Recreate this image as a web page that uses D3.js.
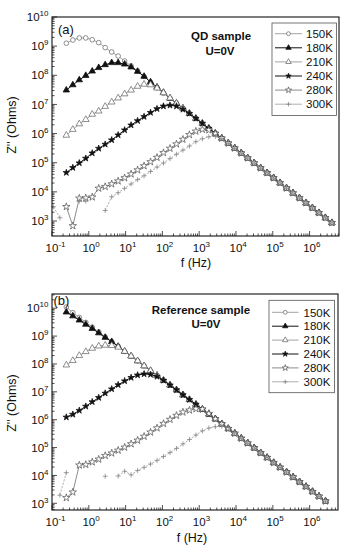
<!DOCTYPE html>
<html><head><meta charset="utf-8">
<script src="https://cdn.jsdelivr.net/npm/d3@7"></script>
<style>body{margin:0;background:#fff}svg{display:block}</style>
</head><body><svg id="c" width="349" height="550"></svg>
<script>
// ---------- data ----------
const freq = [0.109,0.164,0.245,0.368,0.552,0.828,1.24,1.86,2.79,4.19,6.28,9.42,14.1,21.2,31.8,47.6,71.4,107,161,241,361,542,813,1219,1828,2742,4111,6166,9247,13870,20800,31190,46770,70150,105200,157800,236600,354800,532100,798000,1197000,1795000,2692000,4036000];
const temps = ["150K","180K","210K","240K","280K","300K"];

// (a) QD sample
const qd150 = [null,null,1.26e9,1.62e9,1.91e9,1.91e9,1.66e9,1.32e9,8.91e8,6.31e8,4.57e8,3.09e8,2.09e8,1.41e8,9.12e7,5.75e7,3.72e7,2.40e7,1.62e7,1.10e7,7.41e6,4.90e6,3.31e6,2.24e6,1.51e6,1.02e6,6.92e5,4.68e5,3.16e5,2.14e5,1.45e5,9.77e4,6.61e4,4.47e4,3.02e4,2.04e4,1.35e4,9.12e3,6.17e3,4.17e3,2.82e3,1.91e3,1.29e3,871];
const qd180 = [null,null,3.09e7,4.68e7,6.92e7,9.77e7,1.38e8,1.82e8,2.29e8,2.69e8,2.69e8,2.40e8,1.91e8,1.35e8,9.12e7,5.89e7,3.89e7,2.57e7,1.62e7,1.10e7,7.41e6,4.90e6,3.31e6,2.24e6,1.51e6,1.02e6,6.92e5,4.68e5,3.16e5,2.14e5,1.45e5,9.77e4,6.61e4,4.47e4,3.02e4,2.04e4,1.35e4,9.12e3,6.17e3,4.17e3,2.82e3,1.91e3,1.29e3,871];
const qd210 = [null,null,8.71e5,1.38e6,2.14e6,3.02e6,4.57e6,5.89e6,8.51e6,1.20e7,1.66e7,2.29e7,3.09e7,4.17e7,4.90e7,4.68e7,3.63e7,2.51e7,1.66e7,1.10e7,7.41e6,4.90e6,3.31e6,2.24e6,1.51e6,1.02e6,6.92e5,4.68e5,3.16e5,2.14e5,1.45e5,9.77e4,6.61e4,4.47e4,3.02e4,2.04e4,1.35e4,9.12e3,6.17e3,4.17e3,2.82e3,1.91e3,1.29e3,871];
const qd240 = [null,null,4.57e4,6.76e4,9.77e4,1.41e5,2.14e5,3.09e5,4.27e5,6.03e5,8.91e5,1.32e6,1.95e6,2.75e6,3.80e6,5.25e6,7.08e6,8.71e6,9.33e6,8.71e6,6.76e6,4.90e6,3.31e6,2.24e6,1.51e6,1.02e6,6.92e5,4.68e5,3.16e5,2.14e5,1.45e5,9.77e4,6.61e4,4.47e4,3.02e4,2.04e4,1.35e4,9.12e3,6.17e3,4.17e3,2.82e3,1.91e3,1.29e3,871];
const qd280 = [null,null,3.09e3,680,6.03e3,6.17e3,6.61e3,1.32e4,1.51e4,1.86e4,2.34e4,3.02e4,4.07e4,5.62e4,7.76e4,1.07e5,1.51e5,2.19e5,3.09e5,4.37e5,6.31e5,9.12e5,1.20e6,1.38e6,1.32e6,1.00e6,6.92e5,4.68e5,3.16e5,2.14e5,1.45e5,9.77e4,6.61e4,4.47e4,3.02e4,2.04e4,1.35e4,9.12e3,6.17e3,4.17e3,2.82e3,1.91e3,1.29e3,871];
const qd300 = [3.09e3,1.29e3,null,null,4.79e3,4.79e3,null,null,2.29e3,6.76e3,9.33e3,1.32e4,1.86e4,2.63e4,3.55e4,5.01e4,7.08e4,9.77e4,1.38e5,1.95e5,2.69e5,3.72e5,5.25e5,6.61e5,7.76e5,7.94e5,6.61e5,4.68e5,3.16e5,2.14e5,1.45e5,9.77e4,6.61e4,4.47e4,3.02e4,2.04e4,1.35e4,9.12e3,6.17e3,4.17e3,2.82e3,1.91e3,1.29e3,871];

// (b) Reference sample
const ref150 = [null,null,1.10e10,6.92e9,4.68e9,3.09e9,2.09e9,1.41e9,9.33e8,6.31e8,4.27e8,2.82e8,1.91e8,1.29e8,8.51e7,5.75e7,3.89e7,2.57e7,1.74e7,1.17e7,7.76e6,5.25e6,3.55e6,2.34e6,1.58e6,1.07e6,7.08e5,4.79e5,3.24e5,2.14e5,1.45e5,9.77e4,6.46e4,4.37e4,2.88e4,1.95e4,1.32e4,8.71e3,5.89e3,3.98e3,2.63e3,1.78e3,1.20e3,null];
const ref180 = [null,null,7.24e9,5.25e9,3.72e9,2.63e9,1.86e9,1.29e9,8.91e8,6.31e8,4.27e8,2.82e8,1.91e8,1.29e8,8.51e7,5.75e7,3.89e7,2.57e7,1.74e7,1.17e7,7.76e6,5.25e6,3.55e6,2.34e6,1.58e6,1.07e6,7.08e5,4.79e5,3.24e5,2.14e5,1.45e5,9.77e4,6.46e4,4.37e4,2.88e4,1.95e4,1.32e4,8.71e3,5.89e3,3.98e3,2.63e3,1.78e3,1.20e3,null];
const ref210 = [null,null,9.12e7,1.32e8,2.00e8,2.75e8,3.63e8,4.37e8,4.68e8,4.57e8,3.98e8,2.82e8,1.91e8,1.29e8,8.51e7,5.75e7,3.89e7,2.57e7,1.74e7,1.17e7,7.76e6,5.25e6,3.55e6,2.34e6,1.58e6,1.07e6,7.08e5,4.79e5,3.24e5,2.14e5,1.45e5,9.77e4,6.46e4,4.37e4,2.88e4,1.95e4,1.32e4,8.71e3,5.89e3,3.98e3,2.63e3,1.78e3,1.20e3,null];
const ref240 = [null,null,1.23e6,1.55e6,2.14e6,3.02e6,4.37e6,6.17e6,8.91e6,1.26e7,1.78e7,2.45e7,3.24e7,3.98e7,4.37e7,4.17e7,3.55e7,2.57e7,1.74e7,1.17e7,7.76e6,5.25e6,3.55e6,2.34e6,1.58e6,1.07e6,7.08e5,4.79e5,3.24e5,2.14e5,1.45e5,9.77e4,6.46e4,4.37e4,2.88e4,1.95e4,1.32e4,8.71e3,5.89e3,3.98e3,2.63e3,1.78e3,1.20e3,null];
const ref280 = [null,null,1.58e3,2.51e3,2.34e4,2.45e4,3.02e4,3.80e4,5.13e4,6.31e4,7.94e4,1.02e5,1.35e5,1.82e5,2.51e5,3.55e5,5.01e5,7.24e5,1.02e6,1.41e6,1.86e6,2.19e6,2.45e6,2.40e6,1.66e6,1.07e6,7.08e5,4.79e5,3.24e5,2.14e5,1.45e5,9.77e4,6.46e4,4.37e4,2.88e4,1.95e4,1.32e4,8.71e3,5.89e3,3.98e3,2.63e3,1.78e3,1.20e3,null];
const ref300 = [null,1.95e3,1.26e4,null,null,null,null,null,9.33e3,null,9.55e3,1.41e4,1.05e4,1.51e4,1.95e4,2.57e4,3.47e4,4.79e4,6.61e4,9.33e4,1.35e5,1.95e5,2.82e5,3.98e5,5.01e5,5.62e5,5.89e5,5.25e5,3.39e5,2.14e5,1.45e5,9.77e4,6.46e4,4.37e4,2.88e4,1.95e4,1.32e4,8.71e3,5.89e3,3.98e3,2.63e3,1.78e3,1.20e3,null];

const xTickExps = [-1,0,1,2,3,4,5,6];
const yTickExps = [3,4,5,6,7,8,9,10];

// ---------- styles / layout ----------
const FONT = '"Liberation Sans", Arial, Helvetica, sans-serif';
const styles = [
  {sym:d3.symbolCircle,   size:17, fill:"#fff", stroke:"#6a6a6a", line:"#8c8c8c", lw:0.8},
  {sym:d3.symbolTriangle, size:18, fill:"#111", stroke:"#111",    line:"#111",    lw:1.0},
  {sym:d3.symbolTriangle, size:19, fill:"#fff", stroke:"#6a6a6a", line:"#8c8c8c", lw:0.8},
  {sym:d3.symbolStar,     size:13, fill:"#111", stroke:"#111",    line:"#111",    lw:1.0},
  {sym:d3.symbolStar,     size:17, fill:"#fff", stroke:"#5a5a5a", line:"#6e6e6e", lw:0.8},
  {sym:"plus",            size:2.5,fill:"none", stroke:"#808080", line:"#9a9a9a", lw:0.8, dash:"2.2,1.4"}
];

const panels = [
  {series:[qd150,qd180,qd210,qd240,qd280,qd300], L:52, R:339, T:17, B:236,
   xMax:Math.pow(10,6.8), yMin:Math.pow(10,2.485), yMax:1e10,
   tag:"(a)", tagX:58, tagY:34, titles:[["QD sample",221,40],["U=0V",220,54.5]],
   leg:{x0:272,x1:336.5,y0:23,y1:115.5, rows:[33.7,47.8,61.9,76.0,90.1,104.2], lx0:275, lx1:302, tx:306},
   xlab:[196,266.5], ylab:[16,125]},
  {series:[ref150,ref180,ref210,ref240,ref280,ref300], L:52, R:338, T:294, B:510,
   xMax:Math.pow(10,6.77), yMin:Math.pow(10,2.76), yMax:Math.pow(10,10.51),
   tag:"(b)", tagX:53.5, tagY:305, titles:[["Reference sample",201,313.5],["U=0V",206,327.5]],
   leg:{x0:269,x1:334.5,y0:300.3,y1:392.7, rows:[312.3,326.2,340.1,354.0,367.9,381.8], lx0:272, lx1:298.5, tx:303.5},
   xlab:[192,541.5], ylab:[16,403]}
];

const svg = d3.select("#c").style("font-family", FONT);

function markerPath(st, legend) {
  if (st.sym === "plus") {
    const h = legend ? 2.2 : st.size;
    return `M${-h},0H${h}M0,${-h}V${h}`;
  }
  return d3.symbol().type(st.sym).size(legend ? st.size*0.7 : st.size)();
}

function powLabel(g, x, y, exp, anchor) {
  const t = g.append("text").attr("x", x).attr("y", y).attr("text-anchor", anchor)
    .attr("fill", "#111").style("font-size", "11.5px");
  t.append("tspan").text("10");
  t.append("tspan").attr("dy", -5).style("font-size", "8px").text(String(exp));
  return t;
}

let bad = [];
panels.forEach(p => {
  p.series.forEach((s, i) => { if (s.length !== freq.length) bad.push(temps[i] + ":" + s.length); });
  const x = d3.scaleLog().domain([0.1, p.xMax]).range([p.L, p.R]);
  const y = d3.scaleLog().domain([p.yMin, p.yMax]).range([p.B, p.T]);
  const g = svg.append("g");

  // ticks (inside)
  const tk = g.append("g").attr("stroke", "#222").attr("stroke-width", 0.8);
  xTickExps.concat([7]).forEach(e => {
    for (let m = 1; m <= 9; m++) {
      const v = m * Math.pow(10, e);
      if (v < 0.1 - 1e-9 || v > p.xMax) continue;
      const px = x(v), len = m === 1 ? 5 : 2.5;
      tk.append("line").attr("x1", px).attr("x2", px).attr("y1", p.B).attr("y2", p.B - len);
    }
  });
  [2,3,4,5,6,7,8,9,10].forEach(e => {
    for (let m = 1; m <= 9; m++) {
      const v = m * Math.pow(10, e);
      if (v < p.yMin || v > p.yMax * 1.0001) continue;
      const py = y(v), len = m === 1 ? 5 : 2.5;
      tk.append("line").attr("x1", p.L).attr("x2", p.L + len).attr("y1", py).attr("y2", py);
    }
  });

  // tick labels
  xTickExps.forEach(e => powLabel(g, x(Math.pow(10, e)) - 6.4, p.B + 15.5, e, "start"));
  yTickExps.forEach(e => powLabel(g, p.L - 3.5, y(Math.pow(10, e)) + 4.2, e, "end"));

  // series
  const line = d3.line().defined(d => d[1] != null).x(d => x(d[0])).y(d => y(d[1]));
  p.series.forEach((s, i) => {
    const st = styles[i];
    const pts = freq.map((f, k) => [f, s[k]]);
    g.append("path").datum(pts).attr("d", line).attr("fill", "none")
      .attr("stroke", st.line).attr("stroke-width", st.lw)
      .attr("stroke-dasharray", st.dash || null);
    g.append("g").selectAll("path").data(pts.filter(d => d[1] != null)).join("path")
      .attr("transform", d => `translate(${x(d[0])},${y(d[1])})`)
      .attr("d", markerPath(st, false))
      .attr("fill", st.fill).attr("stroke", st.stroke).attr("stroke-width", 0.75);
  });

  // frame
  g.append("rect").attr("x", p.L).attr("y", p.T).attr("width", p.R - p.L).attr("height", p.B - p.T)
    .attr("fill", "none").attr("stroke", "#111").attr("stroke-width", 1.1);

  // panel tag and titles
  g.append("text").attr("x", p.tagX).attr("y", p.tagY).attr("fill", "#111").style("font-size", "13px").text(p.tag);
  p.titles.forEach(t => g.append("text").attr("x", t[1]).attr("y", t[2]).attr("text-anchor", "middle")
    .attr("fill", "#111").style("font-size", "11.5px").style("font-weight", "bold").text(t[0]));

  // legend
  const lg = p.leg;
  g.append("rect").attr("x", lg.x0).attr("y", lg.y0).attr("width", lg.x1 - lg.x0).attr("height", lg.y1 - lg.y0)
    .attr("fill", "#fff").attr("stroke", "#555").attr("stroke-width", 0.8);
  temps.forEach((t, i) => {
    const st = styles[i], ry = lg.rows[i];
    g.append("line").attr("x1", lg.lx0).attr("x2", lg.lx1).attr("y1", ry).attr("y2", ry)
      .attr("stroke", st.line).attr("stroke-width", st.lw);
    g.append("path").attr("transform", `translate(${(lg.lx0 + lg.lx1) / 2},${ry})`)
      .attr("d", markerPath(st, true)).attr("fill", st.fill).attr("stroke", st.stroke).attr("stroke-width", 0.75);
    g.append("text").attr("x", lg.tx).attr("y", ry + 4.2).attr("fill", "#111").style("font-size", "11.5px").text(t);
  });

  // axis titles
  g.append("text").attr("x", p.xlab[0]).attr("y", p.xlab[1]).attr("text-anchor", "middle")
    .attr("fill", "#111").style("font-size", "12.5px").text("f (Hz)");
  g.append("text").attr("transform", `translate(${p.ylab[0]},${p.ylab[1]}) rotate(-90)`)
    .attr("text-anchor", "middle").attr("fill", "#111").style("font-size", "12.5px").text("Z'' (Ohms)");
});
if (bad.length) svg.append("text").attr("x", 5).attr("y", 545).attr("fill", "red").style("font-size", "10px").text("LEN " + bad.join(" "));
</script></body></html>
